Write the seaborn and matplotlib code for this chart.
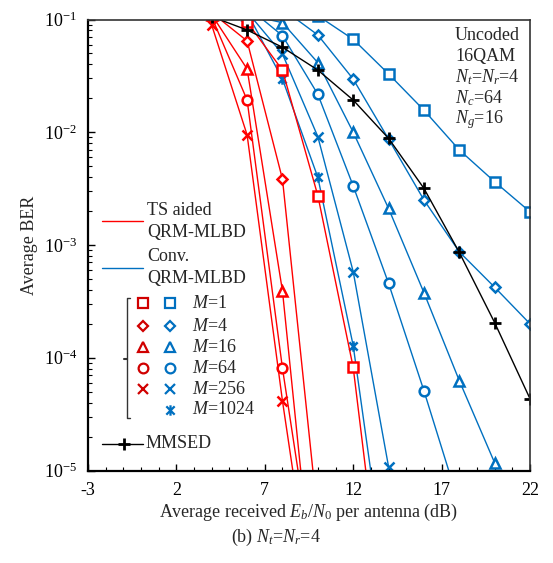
import matplotlib
matplotlib.use("Agg")
import matplotlib.pyplot as plt
from matplotlib.path import Path
import seaborn as sns

# ---- data: average BER versus Eb/N0 (dB) ----
# TS aided QRM-MLBD
ts_m1_snr = [6, 8, 10, 12, 14]
ts_m1_ber = [9.5e-2, 3.55e-2, 2.74e-3, 8.2e-5, 2.2e-7]
ts_m4_snr = [4, 6, 8, 10]
ts_m4_ber = [1.15e-1, 6.45e-2, 3.83e-3, 3.8e-6]
ts_m16_snr = [4, 6, 8, 10]
ts_m16_ber = [1.10e-1, 3.64e-2, 3.9e-4, 3.2e-7]
ts_m64_snr = [4, 6, 8, 10]
ts_m64_ber = [1.05e-1, 1.93e-2, 8.05e-5, 7.0e-7]
ts_m256_snr = [4, 6, 8, 10]
ts_m256_ber = [8.9e-2, 9.46e-3, 4.13e-5, 3.2e-7]

# Conventional QRM-MLBD
cv_m1_snr = [10, 12, 14, 16, 18, 20, 22]
cv_m1_ber = [1.08e-1, 6.67e-2, 3.29e-2, 1.57e-2, 6.97e-3, 3.64e-3, 1.97e-3]
cv_m4_snr = [8, 10, 12, 14, 16, 18, 20, 22]
cv_m4_ber = [1.24e-1, 7.29e-2, 2.96e-2, 8.7e-3, 2.51e-3, 8.7e-4, 4.22e-4, 2.0e-4]
cv_m16_snr = [6, 8, 10, 12, 14, 16, 18, 20]
cv_m16_ber = [1.10e-1, 9.37e-2, 4.14e-2, 1.0e-2, 2.11e-3, 3.78e-4, 6.27e-5, 1.17e-5]
cv_m64_snr = [6, 8, 10, 12, 14, 16, 18]
cv_m64_ber = [1.30e-1, 7.18e-2, 2.17e-2, 3.34e-3, 4.57e-4, 5.1e-5, 5.0e-6]
cv_m256_snr = [6, 8, 10, 12, 14]
cv_m256_ber = [1.17e-1, 4.94e-2, 9.14e-3, 5.8e-4, 1.08e-5]
cv_m1024_snr = [6, 8, 10, 12, 14]
cv_m1024_ber = [1.15e-1, 2.96e-2, 3.98e-3, 1.28e-4, 7.4e-7]

# MMSE detection
mmse_snr = [4, 6, 8, 10, 12, 14, 16, 18, 20, 22]
mmse_ber = [1.06e-1, 8.07e-2, 5.67e-2, 3.56e-2, 1.93e-2, 8.83e-3, 3.18e-3, 8.6e-4, 2.05e-4, 4.33e-5]

x_ticks = [-3, 2, 7, 12, 17, 22]
x_tick_labels = ["-3", "2", "7", "12", "17", "22"]
m_labels = ["1", "4", "16", "64", "256", "1024"]

# ---- style ----
sns.set_theme(style="ticks")
plt.rcParams["font.family"] = ["Liberation Serif", "DejaVu Serif"]
plt.rcParams["mathtext.fontset"] = "custom"
plt.rcParams["mathtext.rm"] = "Liberation Serif"
plt.rcParams["mathtext.it"] = "Liberation Serif:italic"
plt.rcParams["mathtext.bf"] = "Liberation Serif:bold"
plt.rcParams["axes.unicode_minus"] = False

RED = "#FF0000"
BLUE = "#0070C0"
FS = 13

W, H = 553, 563
fig = plt.figure(figsize=(W / 100, H / 100), dpi=100)
ax = fig.add_axes([88 / W, 1 - 470.5 / H, 442 / W, 451 / H])
ax.set_yscale("log")

asterisk = Path(
    [(0, -1), (0, 1), (-0.8, -0.8), (0.8, 0.8), (-0.8, 0.8), (0.8, -0.8)],
    [Path.MOVETO, Path.LINETO, Path.MOVETO, Path.LINETO, Path.MOVETO, Path.LINETO],
)

marker_style = {
    "1": dict(marker="s", markersize=7),
    "4": dict(marker="D", markersize=5.5),
    "16": dict(marker="^", markersize=6.5),
    "64": dict(marker="o", markersize=7),
    "256": dict(marker="x", markersize=6.5),
    "1024": dict(marker=asterisk, markersize=7.5),
}


def curve(x, y, color, key, mew=1.8, lw=1.0):
    sns.lineplot(
        x=x, y=y, ax=ax, color=color, linewidth=lw, estimator=None, sort=False,
        errorbar=None, markerfacecolor="white", markeredgecolor=color,
        markeredgewidth=mew, **marker_style[key]
    )


# conventional detector
curve(cv_m1_snr, cv_m1_ber, BLUE, "1")
curve(cv_m4_snr, cv_m4_ber, BLUE, "4")
curve(cv_m16_snr, cv_m16_ber, BLUE, "16")
curve(cv_m64_snr, cv_m64_ber, BLUE, "64")
curve(cv_m256_snr, cv_m256_ber, BLUE, "256")
curve(cv_m1024_snr, cv_m1024_ber, BLUE, "1024")

# TS aided detector
curve(ts_m1_snr, ts_m1_ber, RED, "1")
curve(ts_m4_snr, ts_m4_ber, RED, "4")
curve(ts_m16_snr, ts_m16_ber, RED, "16")
curve(ts_m64_snr, ts_m64_ber, RED, "64")
curve(ts_m256_snr, ts_m256_ber, RED, "256")

# MMSE detector
sns.lineplot(x=mmse_snr, y=mmse_ber, ax=ax, color="black", linewidth=1.0,
             estimator=None, sort=False, errorbar=None, marker="+",
             markersize=9, markeredgecolor="black", markeredgewidth=2.0)

# ---- axes ----
ax.set_xlim(-3, 22)
ax.set_ylim(1e-5, 1e-1)
ax.set_xticks(x_ticks)
ax.set_xticklabels(x_tick_labels)
ax.set_xticks(range(-3, 23), minor=True)
ax.tick_params(axis="both", which="both", direction="in", labelsize=FS,
               top=False, right=False, colors="black")
ax.tick_params(axis="both", which="major", length=5, width=1.0, pad=8)
ax.tick_params(axis="both", which="minor", length=3, width=0.8)
for side in ("left", "bottom"):
    ax.spines[side].set_linewidth(1.6)
    ax.spines[side].set_color("black")
for side in ("top", "right"):
    ax.spines[side].set_linewidth(1.2)
    ax.spines[side].set_color("#333333")
ax.set_ylabel("Average BER", fontsize=FS, labelpad=4)


def px(x, y):
    return x / W, 1 - y / H


# x-axis title and caption underneath
fig.text(*px(309, 512), "Average received $E_b/N_0$ per antenna (dB)",
         fontsize=FS, ha="center", va="center")
fig.text(*px(276, 537), "(b) $N_t$=$N_r$=4", fontsize=FS, ha="center", va="center")

# annotation block, upper right
for i, s in enumerate(["Uncoded", "16QAM", "$N_t$=$N_r$=4", "$N_c$=64", "$N_g$=16"]):
    fig.text(*px(455, 35 + i * 21.2), s, fontsize=FS, ha="left", va="center")

# legend: detector line styles
fig.add_artist(plt.Line2D([px(102, 0)[0], px(143, 0)[0]], [px(0, 221)[1]] * 2,
                          color=RED, lw=1.0, transform=fig.transFigure))
fig.text(*px(147, 210.7), "TS aided", fontsize=FS, va="center")
fig.text(*px(147, 232), "QRM-MLBD", fontsize=FS, va="center")
fig.add_artist(plt.Line2D([px(102, 0)[0], px(143, 0)[0]], [px(0, 268)[1]] * 2,
                          color=BLUE, lw=1.0, transform=fig.transFigure))
fig.text(*px(147, 256.5), "Conv.", fontsize=FS, va="center")
fig.text(*px(147, 278.5), "QRM-MLBD", fontsize=FS, va="center")

# legend: marker table for each M
rows_y = [303.3, 326.3, 347.3, 368.3, 389, 410]
for key, yy in zip(m_labels, rows_y):
    if key != "1024":
        fig.add_artist(plt.Line2D([px(142.7, 0)[0]], [px(0, yy)[1]], linestyle="none",
                                  color=RED, markerfacecolor="white", markeredgecolor="#D00000",
                                  markeredgewidth=1.6, transform=fig.transFigure,
                                  **marker_style[key]))
    fig.add_artist(plt.Line2D([px(170, 0)[0]], [px(0, yy)[1]], linestyle="none",
                              color=BLUE, markerfacecolor="white", markeredgecolor=BLUE,
                              markeredgewidth=1.6, transform=fig.transFigure,
                              **marker_style[key]))
    fig.text(*px(191.5, yy), "$M$=" + key, fontsize=FS, va="center")

# bracket grouping the marker table
bx = [130, 126.5, 126.5, 130]
by = [298, 298, 418, 418]
fig.add_artist(plt.Line2D([px(v, 0)[0] for v in bx], [px(0, v)[1] for v in by],
                          color="#333333", lw=1.0, transform=fig.transFigure))
fig.add_artist(plt.Line2D([px(123.5, 0)[0], px(126.5, 0)[0]], [px(0, 359)[1]] * 2,
                          color="#333333", lw=1.5, transform=fig.transFigure))

# legend: MMSE entry
fig.add_artist(plt.Line2D([px(102, 0)[0], px(143, 0)[0]], [px(0, 444)[1]] * 2,
                          color="black", lw=1.0, transform=fig.transFigure))
fig.add_artist(plt.Line2D([px(124.3, 0)[0]], [px(0, 444)[1]], linestyle="none",
                          marker="+", markersize=9, markeredgewidth=2.0, color="black",
                          transform=fig.transFigure))
fig.text(*px(146, 444), "MMSED", fontsize=FS, va="center")

fig.savefig("out.png", dpi=100)
